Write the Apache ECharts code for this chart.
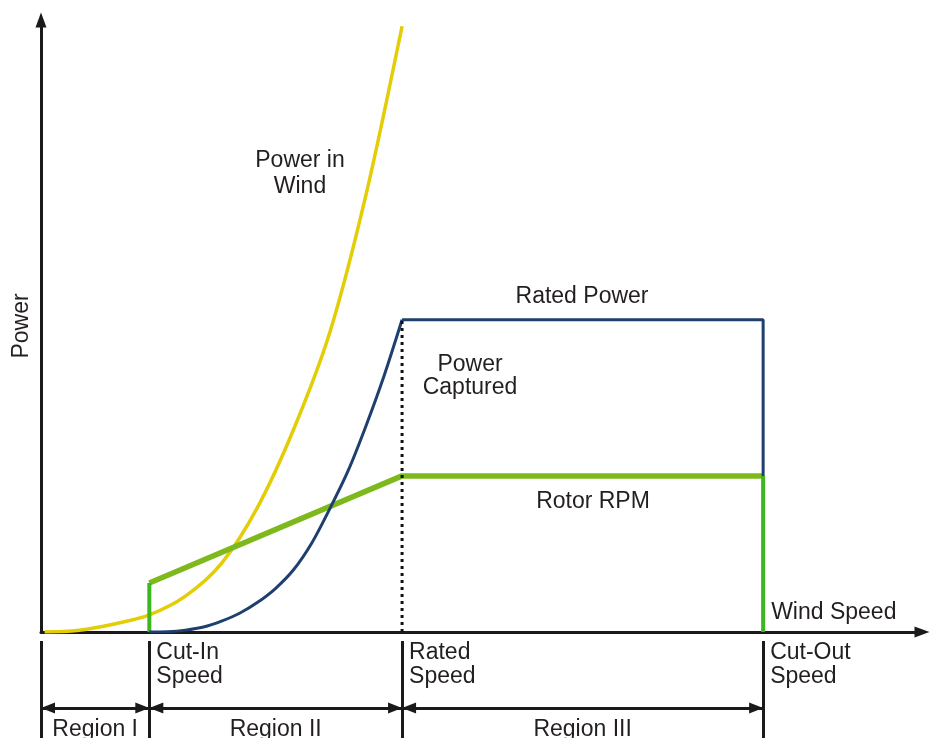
<!DOCTYPE html>
<html>
<head>
<meta charset="utf-8">
<script src="https://cdn.jsdelivr.net/npm/echarts@6/dist/echarts.min.js"></script>
<style>
html,body{margin:0;padding:0;background:#ffffff;}
#chart{width:932px;height:738px;}
</style>
</head>
<body>
<div id="chart"></div>
<script>
// ---- data (wind speed units; power normalised to rated power = 1) ----
const powerInWindX = [0.1, 1, 2, 3, 4, 5, 6, 7, 8, 9, 10];
const powerInWindY = [0, 0.005, 0.025, 0.055, 0.115, 0.22, 0.40, 0.65, 0.96, 1.40, 1.94];

const capturedX = [3, 3.5, 4, 4.5, 5, 5.5, 6, 6.5, 7, 7.5, 8, 8.5, 9, 9.5, 10];
const capturedY = [0, 0.001, 0.006, 0.016, 0.035, 0.06, 0.095, 0.14, 0.20, 0.285, 0.395, 0.515, 0.66, 0.82, 1.0];

const cutInSpeed = 3;
const ratedSpeed = 10;
const cutOutSpeed = 20;
const ratedPower = 1.0;
const rotorRpmAtCutIn = 0.157;
const rotorRpmRated = 0.5;

const boundaries = [0, cutInSpeed, ratedSpeed, cutOutSpeed];
const regionNames = ['Region I', 'Region II', 'Region III'];
const speedNames = ['Cut-In\nSpeed', 'Rated\nSpeed', 'Cut-Out\nSpeed'];
const speedMarks = [cutInSpeed, ratedSpeed, cutOutSpeed];

// ---- chart ----
const FONT = '"Liberation Sans", Arial, Helvetica, sans-serif';
const TXT = '#231f20';
const AXIS = '#1a1a1a';
const chart = echarts.init(document.getElementById('chart'));

const zip = (xs, ys) => xs.map((x, i) => [x, ys[i]]);

chart.setOption({
  animation: false,
  backgroundColor: '#ffffff',
  grid: [
    {left: 41, right: 10, top: 20, height: 612},
    {left: 41, right: 10, top: 641, bottom: 0}
  ],
  xAxis: [
    {type: 'value', gridIndex: 0, min: 0, max: 24.4,
     axisLine: {show: true, onZero: false, lineStyle: {color: AXIS, width: 3},
                symbol: ['none', 'triangle'], symbolSize: [11, 15]},
     axisTick: {show: false}, axisLabel: {show: false}, splitLine: {show: false}},
    {type: 'value', gridIndex: 1, min: 0, max: 24.4, show: false}
  ],
  yAxis: [
    {type: 'value', gridIndex: 0, min: 0, max: 1.96,
     name: 'Power', nameLocation: 'middle', nameGap: 8, nameRotate: 90,
     nameTextStyle: {fontFamily: FONT, fontSize: 23, color: TXT},
     axisLine: {show: true, onZero: false, lineStyle: {color: AXIS, width: 3},
                symbol: ['none', 'triangle'], symbolSize: [11, 15]},
     axisTick: {show: false}, axisLabel: {show: false}, splitLine: {show: false}},
    {type: 'value', gridIndex: 1, min: 0, max: 1, show: false}
  ],
  series: [
    {name: 'Power in Wind', type: 'line', xAxisIndex: 0, yAxisIndex: 0,
     data: zip(powerInWindX, powerInWindY), smooth: 0.3, showSymbol: false,
     lineStyle: {color: '#e3cd07', width: 3.5}, z: 2},
    {name: 'Rotor RPM', type: 'line', xAxisIndex: 0, yAxisIndex: 0,
     data: [[cutInSpeed, rotorRpmAtCutIn], [ratedSpeed, rotorRpmRated], [cutOutSpeed, rotorRpmRated]],
     showSymbol: false, lineStyle: {color: '#7db91c', width: 5.5, join: 'round'}, z: 3},
    {name: 'Rotor RPM cut-in', type: 'line', xAxisIndex: 0, yAxisIndex: 0,
     data: [[cutInSpeed, 0], [cutInSpeed, rotorRpmAtCutIn]],
     showSymbol: false, lineStyle: {color: '#3db71f', width: 4}, z: 3},
    {name: 'Rotor RPM cut-out', type: 'line', xAxisIndex: 0, yAxisIndex: 0,
     data: [[cutOutSpeed, rotorRpmRated], [cutOutSpeed, 0]],
     showSymbol: false, lineStyle: {color: '#3db71f', width: 4}, z: 3},
    {name: 'Power Captured', type: 'line', xAxisIndex: 0, yAxisIndex: 0,
     data: zip(capturedX, capturedY), smooth: 0.3, showSymbol: false,
     lineStyle: {color: '#1f3f6f', width: 3}, z: 4},
    {name: 'Rated Power', type: 'line', xAxisIndex: 0, yAxisIndex: 0,
     data: [[ratedSpeed, ratedPower], [cutOutSpeed, ratedPower], [cutOutSpeed, rotorRpmRated]],
     showSymbol: false, lineStyle: {color: '#1f3f6f', width: 3}, z: 4},
    {name: 'Rated speed marker', type: 'line', xAxisIndex: 0, yAxisIndex: 0,
     data: [[ratedSpeed, 0], [ratedSpeed, ratedPower]],
     showSymbol: false, lineStyle: {color: '#111111', width: 3, type: [3, 4]}, z: 5},
    {name: 'regions', type: 'line', xAxisIndex: 1, yAxisIndex: 1, data: [],
     markLine: {
       silent: true, animation: false,
       label: {show: false},
       data: [
         ...boundaries.map(b => [
           {coord: [b, 0], symbol: 'none', lineStyle: {color: AXIS, width: 3, type: 'solid'}},
           {coord: [b, 1], symbol: 'none'}
         ]),
         ...regionNames.map((n, i) => [
           {coord: [boundaries[i], 0.31], symbol: 'triangle', symbolSize: [11, 14], symbolOffset: [0, '50%'],
            lineStyle: {color: AXIS, width: 3, type: 'solid'}},
           {coord: [boundaries[i + 1], 0.31], symbol: 'triangle', symbolSize: [11, 14], symbolOffset: [0, '50%']}
         ])
       ]
     }}
  ]
});

const px = v => chart.convertToPixel({xAxisIndex: 0}, v);
const textStyle = (extra) => Object.assign({fontFamily: FONT, fontSize: 23, fill: TXT}, extra);
const graphics = [
  {type: 'text', x: 300, y: 174, style: textStyle({text: 'Power in\nWind', align: 'center', verticalAlign: 'middle', lineHeight: 26})},
  {type: 'text', x: 582, y: 297, style: textStyle({text: 'Rated Power', align: 'center', verticalAlign: 'middle'})},
  {type: 'text', x: 470, y: 376, style: textStyle({text: 'Power\nCaptured', align: 'center', verticalAlign: 'middle', lineHeight: 23})},
  {type: 'text', x: 593, y: 502, style: textStyle({text: 'Rotor RPM', align: 'center', verticalAlign: 'middle'})},
  {type: 'text', x: px(cutOutSpeed) + 8, y: 613, style: textStyle({text: 'Wind Speed', align: 'left', verticalAlign: 'middle'})}
];
speedMarks.forEach((s, i) => {
  graphics.push({type: 'text', x: px(s) + 7, y: 665,
    style: textStyle({text: speedNames[i], align: 'left', verticalAlign: 'middle', lineHeight: 24})});
});
regionNames.forEach((n, i) => {
  graphics.push({type: 'text', x: (px(boundaries[i]) + px(boundaries[i + 1])) / 2, y: 730,
    style: textStyle({text: n, align: 'center', verticalAlign: 'middle'})});
});
chart.setOption({graphic: graphics});
</script>
</body>
</html>
